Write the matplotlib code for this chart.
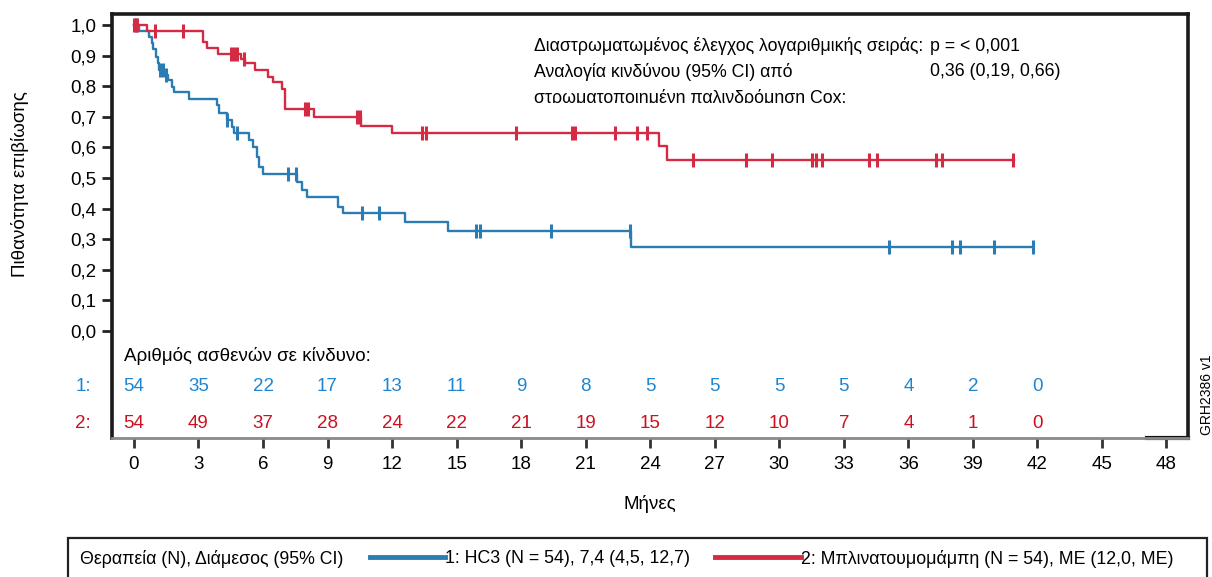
import numpy as np
import matplotlib
matplotlib.use('Agg')
from matplotlib import pyplot as plt
from matplotlib.lines import Line2D
from matplotlib.patches import Rectangle
from matplotlib.transforms import Bbox, TransformedBbox

plt.rcParams['font.family'] = ['Liberation Sans', 'DejaVu Sans']
FS = 13.5   # axis / table text
FS2 = 12.8  # statistics and legend text (condensed in the original)

# Kaplan-Meier steps (months, survival after the step)
blue_t = [0, 0.24, 0.71, 0.82, 0.90, 1.02, 1.10, 1.18, 1.44, 1.60, 1.75, 1.87, 2.57, 3.84, 3.97,
          4.31, 4.54, 4.66, 5.36, 5.52, 5.70, 5.83, 5.98, 7.56, 7.80, 8.03, 9.50, 9.70, 12.6,
          14.6, 23.12, 41.8]
blue_s = [1.0, 0.981, 0.962, 0.940, 0.921, 0.897, 0.875, 0.853, 0.837, 0.820, 0.798, 0.782, 0.757,
          0.739, 0.711, 0.690, 0.668, 0.648, 0.624, 0.602, 0.570, 0.537, 0.512, 0.488, 0.461, 0.439,
          0.406, 0.385, 0.355, 0.327, 0.275, 0.275]
blue_cens = [0.1, 1.2, 1.33, 1.51, 4.34, 4.77, 7.14, 7.52, 10.6, 11.4, 15.9, 16.1, 19.4, 23.08,
             35.1, 38.04, 38.4, 39.98, 41.78]

red_t = [0, 0.59, 3.22, 3.41, 3.90, 5.0, 5.16, 5.63, 6.25, 6.48, 6.90, 7.0, 8.38, 10.55, 12.0,
         24.4, 24.76, 40.9]
red_s = [1.0, 0.981, 0.944, 0.924, 0.904, 0.889, 0.875, 0.853, 0.831, 0.815, 0.791, 0.7245, 0.698,
         0.671, 0.646, 0.603, 0.560, 0.560]
red_cens = [0.0, 0.15, 1.0, 2.3, 4.5, 4.66, 4.8, 5.1, 7.95, 8.1, 10.38, 10.5, 13.4, 13.6, 17.76,
            20.35, 20.5, 22.36, 23.37, 23.86, 26.0, 28.45, 29.67, 31.5, 31.73, 32.0, 34.18, 34.52,
            37.28, 37.55, 40.88]

risk_months = list(range(0, 43, 3))
blue_risk = [54, 35, 22, 17, 13, 11, 9, 8, 5, 5, 5, 5, 4, 2, 0]
red_risk = [54, 49, 37, 28, 24, 22, 21, 19, 15, 12, 10, 7, 4, 1, 0]

BLUE = '#2a7cb3'
RED = '#d42a44'
BLUE_TXT = '#1e86d0'
RED_TXT = '#cc1020'

ymin, ymax = -0.35, 1.036
xmin, xmax = -1.02, 49.0


def at(t, s, c):
    idx = np.searchsorted(t, c, side='right') - 1
    return np.array(s)[idx]


fig = plt.figure(figsize=(12.12, 5.77), dpi=100)
ax = fig.add_axes([0.0924, 0.2409, 0.8878, 0.7348])

for t, s, cens, col in [(blue_t, blue_s, blue_cens, BLUE), (red_t, red_s, red_cens, RED)]:
    ax.step(t, s, where='post', color=col, lw=1.7)
    ax.plot(cens, at(t, s, cens), ls='none', marker='|', ms=10, mew=2.2, color=col)

ax.set_xlim(xmin, xmax)
ax.set_ylim(ymin, ymax)
ax.set_yticks(np.arange(0, 1.01, 0.1))
ax.set_yticklabels([('%.1f' % v).replace('.', ',') for v in np.arange(0, 1.01, 0.1)])
ax.set_xticks(range(0, 49, 3))
ax.tick_params(axis='y', direction='out', length=7, width=2, color='#222222', labelsize=FS, pad=4)
ax.tick_params(axis='x', direction='out', length=7, width=2, color='#333333', labelsize=FS, pad=6)

for side in ['top', 'right', 'left']:
    ax.spines[side].set_linewidth(2.6)
    ax.spines[side].set_color('#1a1a1a')
ax.spines['bottom'].set_linewidth(2)
ax.spines['bottom'].set_color('#8a8a8a')
ax.axhline(ymin, xmin=0.962, xmax=1.0, color='#111111', lw=3, clip_on=False)

ax.set_xlabel('Μήνες', fontsize=FS, labelpad=16)
ax.set_ylabel('Πιθανότητα επιβίωσης', fontsize=FS)
ax.yaxis.set_label_coords(-0.077, 0.60)

# number at risk
ax.text(-0.46, -0.082, 'Αριθμός ασθενών σε κίνδυνο:', ha='left', va='center', fontsize=FS)
ax.text(-2.0, -0.183, '1:', ha='right', va='center', color=BLUE_TXT, fontsize=FS)
ax.text(-2.0, -0.301, '2:', ha='right', va='center', color=RED_TXT, fontsize=FS)
for m, b, r in zip(risk_months, blue_risk, red_risk):
    ax.text(m, -0.183, str(b), ha='center', va='center', color=BLUE_TXT, fontsize=FS)
    ax.text(m, -0.301, str(r), ha='center', va='center', color=RED_TXT, fontsize=FS)

# statistics text
ax.text(18.6, 0.93, 'Διαστρωματωμένος έλεγχος λογαριθμικής σειράς:', ha='left', va='center', fontsize=FS2)
ax.text(37.0, 0.93, 'p = < 0,001', ha='left', va='center', fontsize=FS2)
ax.text(18.6, 0.847, 'Αναλογία κινδύνου (95% CI) από', ha='left', va='center', fontsize=FS2)
ax.text(37.0, 0.847, '0,36 (0,19, 0,66)', ha='left', va='center', fontsize=FS2)
cut = ax.text(18.6, 0.763, 'στρωματοποιημένη παλινδρόμηση Cox:', ha='left', va='center', fontsize=FS2)
cut.set_clip_box(TransformedBbox(Bbox([[0, 0.79], [1, 1]]), ax.transAxes))
cut.set_clip_on(True)

fig.text(0.9955, 0.315, 'GRH2386 v1', rotation=90, ha='center', va='center', fontsize=10)

# legend strip
fig.add_artist(Rectangle((0.056, -0.05), 0.94, 0.118, transform=fig.transFigure,
                         fill=False, lw=1.6, ec='#222222'))
fig.text(0.066, 0.032, 'Θεραπεία (N), Διάμεσος (95% CI)', ha='left', va='center', fontsize=FS2)
fig.add_artist(Line2D([0.305, 0.367], [0.035, 0.035], color=BLUE, lw=3.5, transform=fig.transFigure))
fig.text(0.367, 0.032, '1: HC3 (N = 54), 7,4 (4,5, 12,7)', ha='left', va='center', fontsize=FS2)
fig.add_artist(Line2D([0.59, 0.661], [0.035, 0.035], color=RED, lw=3.5, transform=fig.transFigure))
fig.text(0.661, 0.032, '2: Μπλινατουμομάμπη (N = 54), ΜΕ (12,0, ΜΕ)', ha='left', va='center', fontsize=FS2)

fig.savefig('out.png', dpi=100)
